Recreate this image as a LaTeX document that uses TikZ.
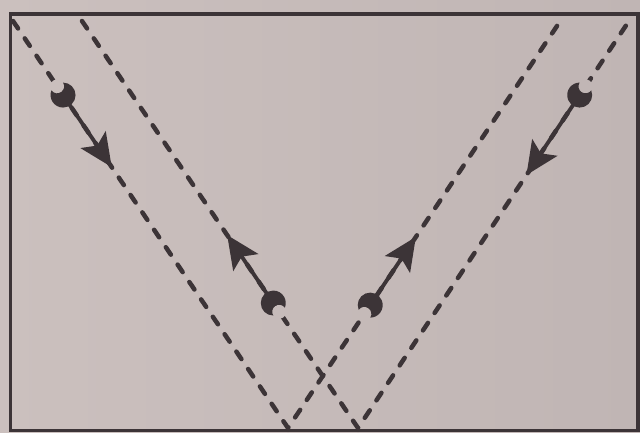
\documentclass[tikz,border=0pt]{standalone}
\usetikzlibrary{calc,arrows.meta}
\definecolor{PaperGrey}{RGB}{203,192,190}
\definecolor{PaperDark}{RGB}{192,181,180}
\definecolor{InkDark}{RGB}{60,52,55}

\begin{document}
\begin{tikzpicture}[
    x=1pt,y=1pt,
    frame/.style={draw=InkDark,line width=3.5pt},
    ray/.style={draw=InkDark,line width=4.5pt,line cap=round,dash pattern=on 9pt off 12pt},
    shaft/.style={draw=InkDark,line width=3.8pt,-{Stealth[length=33pt,width=30pt,inset=7pt]}},
    cup/.pic={\fill[HoleGrey] (-10.5,0) circle[radius=7];
              \fill[InkDark] (-10.36,7) arc[start angle=145.95,end angle=-145.95,radius=12.5]
                arc[start angle=-88.8,end angle=88.8,radius=7] -- cycle;}
]
  \shade[left color=PaperGrey,right color=PaperDark] (0,0) rectangle (640,432);
  \useasboundingbox (0,0) rectangle (640,432);

  % the two V paths
  \coordinate (a) at (13,411);
  \coordinate (v1) at (288,4);
  \coordinate (c) at (563,415);
  \coordinate (b) at (82,411);
  \coordinate (v2) at (358,4);
  \coordinate (d) at (631,414);

  \draw[ray] (a) -- (v1) -- (c);
  \draw[ray] (b) -- (v2) -- (d);

  % arrows sitting on the rays
  \coordinate (t1) at ($(a)!0.182!(v1)$);
  \coordinate (h1) at ($(a)!0.359!(v1)$);
  \coordinate (t2) at ($(b)!0.693!(v2)$);
  \coordinate (h2) at ($(b)!0.526!(v2)$);
  \coordinate (t3) at ($(v1)!0.299!(c)$);
  \coordinate (h3) at ($(v1)!0.465!(c)$);
  \coordinate (t4) at ($(d)!0.188!(v2)$);
  \coordinate (h4) at ($(d)!0.383!(v2)$);

  \foreach \n/\m in {1/90,2/57,3/42,4/9}{
    \colorlet{HoleGrey}{PaperGrey!\m!PaperDark}
    \draw[shaft] (t\n) -- (h\n);
    \path (t\n) -- (h\n) pic[pos=0,sloped,allow upside down]{cup};
  }

  \draw[frame] (10.5,1.5) rectangle (638,418);
\end{tikzpicture}
\end{document}
